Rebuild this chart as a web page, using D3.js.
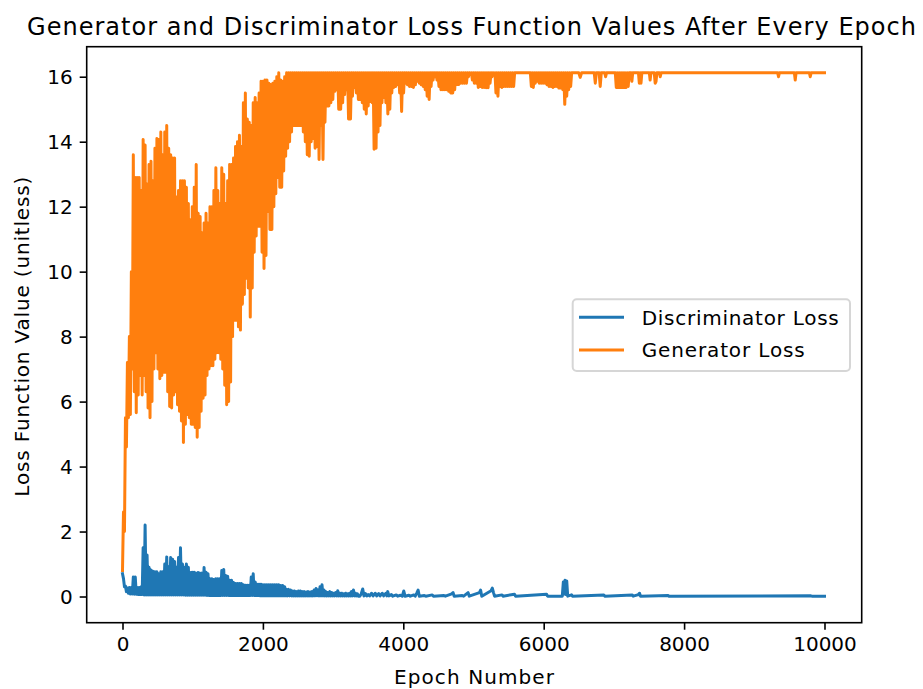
<!DOCTYPE html>
<html><head><meta charset="utf-8">
<script src="https://cdn.jsdelivr.net/npm/d3@7"></script>
<style>body{margin:0;background:#fff} text{font-family:"DejaVu Sans",sans-serif;fill:#000}</style>
</head><body><svg id="c" width="923" height="689"></svg>
<script>
const title = "Generator and Discriminator Loss Function Values After Every Epoch";
const xLabel = "Epoch Number";
const yLabel = "Loss Function Value (unitless)";
const seriesNames = ["Discriminator Loss", "Generator Loss"];
const seriesColors = ["#1f77b4", "#ff7f0e"];
const xTicks = [0, 2000, 4000, 6000, 8000, 10000];
const yTicks = [0, 2, 4, 6, 8, 10, 12, 14, 16];

// early, densely sampled part of each series: one value every 14 epochs from epoch 0
const sampleStep = 14;

const discDense = [
0.70,0.55,0.30,0.32,0.15,0.26,0.10,0.28,0.08,0.28,
0.08,0.6,0.07,0.6,0.07,0.28,0.06,0.28,0.06,0.3,
0.06,1.5,0.05,2.2,0.05,1.28,0.05,0.9,0.05,0.82,
0.05,0.78,0.05,0.76,0.05,0.76,0.05,0.7,0.05,0.76,
0.05,0.76,0.05,1.0,0.05,1.22,0.05,0.92,0.05,1.2,
0.05,1.15,0.05,1.08,0.05,0.9,0.05,1.2,0.05,1.5,
0.05,1.0,0.05,0.9,0.04,1.0,0.04,0.9,0.04,0.74,
0.04,0.75,0.04,0.75,0.04,0.72,0.04,0.74,0.04,0.72,
0.04,0.72,0.04,0.89,0.04,0.75,0.03,0.7,0.03,0.55,
0.03,0.55,0.03,0.52,0.03,0.55,0.03,0.55,0.03,0.55,
0.03,0.8,0.03,0.83,0.03,0.65,0.03,0.62,0.03,0.5,
0.03,0.5,0.03,0.43,0.03,0.4,0.03,0.4,0.03,0.4,
0.03,0.4,0.03,0.36,0.03,0.35,0.03,0.35,0.03,0.35,
0.03,0.6,0.03,0.7,0.03,0.45,0.03,0.38,0.03,0.38,
0.02,0.38,0.02,0.36,0.02,0.36,0.02,0.36,0.02,0.36,
0.02,0.36,0.02,0.36,0.02,0.36,0.02,0.36,0.02,0.36,
0.02,0.34,0.02,0.34,0.02,0.3,0.02,0.22,0.02,0.22,
0.02,0.2,0.02,0.17,0.02,0.17,0.02,0.15,0.02,0.17,
0.02,0.17,0.02,0.15,0.02,0.15,0.02,0.14,0.02,0.15,
0.02,0.14,0.02,0.15,0.02,0.2,0.02,0.25,0.02,0.2,
0.02,0.3,0.02,0.36,0.02,0.2,0.02,0.15,0.02,0.12,
0.02,0.15,0.02,0.12,0.02,0.1,0.02,0.12,0.02,0.18,
0.02,0.1,0.02,0.1,0.02,0.08,0.02,0.1,0.02,0.08,
0.02,0.1,0.02,0.15,0.02,0.2,0.02,0.1,0.02,0.08,
0.01];

const discLateEpochs = [3380,3400,3422,3440,3460,3480,3500,3520,3548,3570,3600,3620,3650,3670,3700,3720,3752,3765,3778,3795,3830,3850,3900,3920,3960,3985,4007,4025,4080,4100,4150,4170,4195,4211,4228,4300,4320,4413,4430,4580,4600,4690,4709,4725,4840,4860,4923,4940,5085,5101,5118,5250,5268,5285,5300,5406,5420,5584,5600,6041,6055,6265,6280,6292,6304,6316,6328,6342,6397,6410,6856,6870,7262,7275,7350,7365,7380,7772,7785,9806,9820,10000];
const discLateLoss = [0.01,0.08,0.23,0.02,0.09,0.02,0.06,0.02,0.1,0.02,0.1,0.02,0.09,0.02,0.1,0.02,0.1,0.02,0.15,0.02,0.06,0.01,0.05,0.01,0.04,0.01,0.17,0.01,0.04,0.01,0.05,0.01,0.12,0.2,0.01,0.03,0.01,0.05,0.01,0.03,0.01,0.08,0.12,0.01,0.03,0.01,0.12,0.01,0.12,0.2,0.01,0.18,0.26,0.12,0.01,0.05,0.01,0.07,0.01,0.07,0.01,0.01,0.45,0.08,0.5,0.06,0.48,0.01,0.05,0.01,0.05,0.01,0.05,0.01,0.06,0.1,0.01,0.03,0.01,0.02,0.01,0.01];

const genDense = [
0.8,2.6,2.0,5.5,4.6,7.2,5.5,8.0,5.6,10.0,
7.0,13.6,6.3,12.9,5.66,12.9,6.2,12.9,6.8,12.5,
6.2,14.07,6.8,13.9,6.3,12.7,5.8,13.3,5.5,13.4,
6.0,12.8,7.0,13.8,7.5,14.1,7.0,14.07,6.7,14.3,
6.8,13.6,6.9,14.3,6.9,14.5,6.3,13.8,5.85,13.6,
5.8,13.5,6.2,13.5,6.3,12.3,5.9,12.5,5.7,12.8,
5.4,12.8,4.74,12.8,5.3,12.6,5.6,12.1,5.5,11.6,
5.3,12.0,5.3,12.6,5.2,13.3,4.9,11.8,5.2,11.7,
5.7,11.2,6.1,11.5,6.2,11.8,6.8,11.5,7.0,12.0,
7.1,12.0,7.1,12.5,7.3,13.2,7.5,12.5,7.5,12.1,
7.3,13.2,7.0,13.0,6.5,12.1,5.9,12.8,6.0,13.3,
6.6,13.3,8.0,13.5,8.5,13.85,8.5,14.0,8.3,14.2,
8.2,13.85,9.0,15.2,9.3,15.5,9.8,14.7,9.5,14.6,
8.6,14.5,9.5,15.2,10.6,15.36,11.1,15.2,11.4,15.5,
11.4,15.86,10.6,15.86,10.1,15.9,10.5,15.9,11.85,15.8,
11.3,15.76,11.3,15.8,12.0,15.86,12.4,16.0,12.9,16.12,
12.6,15.9,12.6,15.86,13.1,16.0,13.55,16.12,13.8,16.12,
14.0,16.12,14.3,16.12,14.5,16.12,14.5,16.12,14.5,16.12,
14.5,16.12,14.5,16.12,14.3,16.12,14.0,16.12,13.6,16.12,
13.55,16.12,14.0,16.12,14.1,16.12,13.8,16.12,13.85,16.12,
13.45,16.12,14.5,16.12,13.45,16.12,14.6,16.12,15.1,16.12,
15.1,16.12,15.2,16.12,15.3,16.12,15.55,16.12,15.6,16.12,
15.0,16.12,15.0,16.12,15.2,16.12,15.45,16.12,15.6,16.12,
14.7,16.12,14.7,16.12,15.4,16.12,15.67,16.12,15.5,16.12,
15.3,16.12,15.3,16.12,15.2,16.12,15.0,16.12,14.85,16.12,
15.1,16.12,15.24,16.12,15.2,16.12,13.77,16.12,13.8,16.12,
14.3,16.12,14.5,16.12,15.2,16.12,15.36,16.12,15.2,16.12,
14.85,16.12,15.0,16.12,15.5,16.12,15.67,16.12,15.7,16.12,
15.76,16.12,15.5,16.12,14.93,16.12,15.5,16.12,15.8,16.12,
15.75,16.12,15.7,16.12,15.7,16.12,15.67,16.12,15.75,16.12,
15.86,16.12,15.8,16.12,15.75,16.12,15.7,16.12,15.6,16.12,
15.4,16.12,15.3,16.12,15.7,16.12,15.9,16.12,16.0,16.12,
15.9,16.12,15.7,16.12,15.6,16.12,15.6,16.12,15.6,16.12,
15.6,16.12,15.55,16.12,15.5,16.12,15.5,16.12,15.6,16.12,
15.76,16.12,15.76,16.12,15.8,16.12,15.8,16.12,15.8,16.12,
15.8,16.12,16.0,16.12,16.1,16.12,15.9,16.12,15.8,16.12,
15.8,16.12,15.67,16.12,15.7,16.12,15.67,16.12,15.67,16.12,
15.66,16.12,15.66,16.12,15.8,16.12,16.0,16.12,16.1,16.12,
15.5,16.12,15.4,16.12,15.7,16.12,15.67,16.12,15.7,16.12,
15.7,16.12,15.7,16.12,15.7,16.12,15.7,16.12,15.7,16.12,
16.12,16.12,16.12,16.12,16.12,16.12,16.12,16.12,16.12,16.12,
16.12,16.12,16.12,16.12,16.12,16.12,15.7,16.12,15.67,16.12,
15.8,16.12,15.86,16.12,15.8,16.12,15.8,16.12,15.8,16.12,
15.8,16.12,15.75,16.12,15.7,16.12,15.7,16.12,15.67,16.12,
15.7,16.12,15.7,16.12,15.65,16.12,15.65,16.12,15.6,16.12,
15.15,16.12,15.4,16.12,15.6,16.12,15.7,16.12,16.12,16.12];

const genLateEpochs = [6500,6520,6540,6720,6735,6750,6790,6805,6820,6870,6882,6895,7020,7034,7048,7062,7076,7090,7104,7118,7132,7146,7160,7175,7190,7204,7218,7245,7256,7268,7350,7362,7374,7386,7398,7505,7516,7528,7575,7588,7600,7612,7648,7660,7672,9333,9345,9357,9571,9583,9595,9785,9797,9809,10000];
const genLateLoss = [16.12,15.98,16.12,16.12,15.8,16.12,16.12,15.7,16.12,16.12,16.0,16.12,16.12,15.67,16.12,15.67,16.12,15.67,16.12,15.67,16.12,15.67,16.12,15.67,16.12,15.7,16.12,16.12,15.86,16.12,16.12,15.8,16.12,15.8,16.12,16.12,15.9,16.12,16.12,15.8,15.85,16.12,16.12,16.0,16.12,16.12,16.0,16.12,16.12,15.9,16.12,16.12,16.0,16.12,16.12];

const svg = d3.select("#c");
const L = 86.7, R = 861.7, T = 46.7, B = 622.7;
const x = d3.scaleLinear().domain([-510, 10530]).range([L, R]);
const y = d3.scaleLinear().domain([-0.806, 16.924]).range([B, T]);

function series(dense, lateE, lateV) {
  const pts = dense.map((v, i) => [i * sampleStep, v]);
  lateE.forEach((e, i) => pts.push([e, lateV[i]]));
  return pts;
}
const data = [
  series(discDense, discLateEpochs, discLateLoss),
  series(genDense, genLateEpochs, genLateLoss)
];

svg.append("defs").append("clipPath").attr("id", "clip")
  .append("rect").attr("x", L).attr("y", T).attr("width", R - L).attr("height", B - T);

const line = d3.line().x(d => x(d[0])).y(d => y(d[1]));
svg.append("g").attr("clip-path", "url(#clip)")
  .selectAll("path").data(data).join("path")
  .attr("d", line).attr("fill", "none")
  .attr("stroke", (d, i) => seriesColors[i])
  .attr("stroke-width", 3)
  .attr("stroke-linejoin", "round")
  .attr("stroke-linecap", "square");

// axes
const xAxis = svg.append("g").attr("transform", `translate(0,${B})`)
  .call(d3.axisBottom(x).tickValues(xTicks).tickSize(7).tickPadding(7).tickFormat(d3.format("d")));
const yAxis = svg.append("g").attr("transform", `translate(${L},0)`)
  .call(d3.axisLeft(y).tickValues(yTicks).tickSize(7).tickPadding(7).tickFormat(d3.format("d")));
[xAxis, yAxis].forEach(a => {
  a.select(".domain").remove();
  a.selectAll(".tick line").attr("stroke", "#000").attr("stroke-width", 1.6);
  a.selectAll(".tick text").attr("font-size", 20).attr("font-family", "DejaVu Sans").attr("fill", "#000");
});
yAxis.selectAll(".tick text").attr("dy", "0.36em");

// frame
svg.append("rect").attr("x", L).attr("y", T).attr("width", R - L).attr("height", B - T)
  .attr("fill", "none").attr("stroke", "#000").attr("stroke-width", 1.6);

// title and labels (widths matched to the reference's hinted text)
svg.append("text").attr("x", 471.5).attr("y", 34.5).attr("text-anchor", "middle")
  .attr("font-size", 24).attr("textLength", 889).attr("lengthAdjust", "spacing").text(title);
svg.append("text").attr("x", 474).attr("y", 684).attr("text-anchor", "middle")
  .attr("font-size", 20).attr("textLength", 160).attr("lengthAdjust", "spacing").text(xLabel);
svg.append("text").attr("transform", `translate(29,${(T + B) / 2 + 2}) rotate(-90)`)
  .attr("text-anchor", "middle").attr("font-size", 20)
  .attr("textLength", 320).attr("lengthAdjust", "spacing").text(yLabel);

// legend
const legendWidths = [197, 163];
const lg = svg.append("g");
lg.append("rect").attr("x", 572.7).attr("y", 299.3).attr("width", 277.3).attr("height", 71.7)
  .attr("rx", 4).attr("fill", "#fff").attr("fill-opacity", 0.8)
  .attr("stroke", "#cccccc").attr("stroke-opacity", 0.8).attr("stroke-width", 2);
seriesNames.forEach((name, i) => {
  const cy = 317.3 + i * 32.7;
  lg.append("line").attr("x1", 579).attr("x2", 624).attr("y1", cy).attr("y2", cy)
    .attr("stroke", seriesColors[i]).attr("stroke-width", 3);
  lg.append("text").attr("x", 641.7).attr("y", cy + 7.3).attr("font-size", 20)
    .attr("textLength", legendWidths[i]).attr("lengthAdjust", "spacing").text(name);
});
</script></body></html>
